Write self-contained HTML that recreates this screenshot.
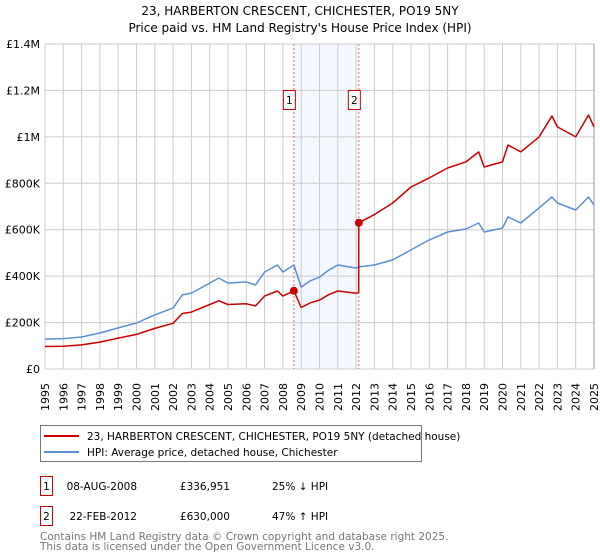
<!DOCTYPE html>
<html><head><meta charset="utf-8"><style>
body{margin:0;background:#fff;font-family:"DejaVu Sans","Liberation Sans",sans-serif;}
svg{display:block}
</style></head><body>
<svg width="600" height="560" xmlns="http://www.w3.org/2000/svg" font-family="DejaVu Sans, Liberation Sans, sans-serif">
<text x="300" y="15" text-anchor="middle" font-size="12">23, HARBERTON CRESCENT, CHICHESTER, PO19 5NY</text>
<text x="300" y="32" text-anchor="middle" font-size="12">Price paid vs. HM Land Registry's House Price Index (HPI)</text>
<g id="plot"></g>
<g>
<rect x="40.5" y="425.5" width="381" height="36" fill="#fff" stroke="#777"/>
<line x1="44" y1="436" x2="79" y2="436" stroke="#cc0000" stroke-width="2"/>
<text x="87" y="440" font-size="10.5">23, HARBERTON CRESCENT, CHICHESTER, PO19 5NY (detached house)</text>
<line x1="44" y1="452" x2="79" y2="452" stroke="#5b8fd4" stroke-width="2"/>
<text x="87" y="456" font-size="10.5">HPI: Average price, detached house, Chichester</text>
</g>
<g font-size="10.5">
<rect x="40.5" y="476.5" width="12" height="19" fill="#fff" stroke="#cc0000"/>
<text x="46.5" y="490" text-anchor="middle">1</text>
<text x="137" y="490" text-anchor="end">08-AUG-2008</text>
<text x="230" y="490" text-anchor="end">£336,951</text>
<text x="272" y="490">25% ↓ HPI</text>
<rect x="40.5" y="506.5" width="12" height="19" fill="#fff" stroke="#cc0000"/>
<text x="46.5" y="520" text-anchor="middle">2</text>
<text x="137" y="520" text-anchor="end">22-FEB-2012</text>
<text x="230" y="520" text-anchor="end">£630,000</text>
<text x="272" y="520">47% ↑ HPI</text>
</g>
<text x="40" y="540" font-size="10.5" fill="#777">Contains HM Land Registry data © Crown copyright and database right 2025.</text>
<text x="40" y="550" font-size="10.5" fill="#777">This data is licensed under the Open Government Licence v3.0.</text>
</svg>
<script>
const hpiDates=[1995,1996,1997,1998,1999,2000,2001,2002,2002.5,2003,2004,2004.5,2005,2006,2006.5,2007,2007.7,2008,2008.6,2009,2009.5,2010,2010.5,2011,2012,2012.15,2013,2014,2015,2016,2017,2018,2018.7,2019,2020,2020.3,2021,2022,2022.7,2023,2024,2024.7,2025];
const hpiValues=[129,131,138,155,177,198,233,263,319,327,370,392,370,375,362,418,448,418,448,353,380,396,426,448,435,440,448,470,513,556,590,603,629,590,607,655,629,694,741,715,685,741,707];
const redDates=[1995,1996,1997,1998,1999,2000,2001,2002,2002.5,2003,2004,2004.5,2005,2006,2006.5,2007,2007.7,2008,2008.6,2009,2009.5,2010,2010.5,2011,2012,2012.14,2012.15,2013,2014,2015,2016,2017,2018,2018.7,2019,2020,2020.3,2021,2022,2022.7,2023,2024,2024.7,2025];
const redValues=[97,98,104,116,133,149,175,197,239,245,278,294,278,281,272,314,336,314,337,265,285,297,320,336,326,330,630,665,715,784,823,866,892,935,870,892,965,935,1000,1090,1043,1000,1094,1043];
const saleDates=[2008.6,2012.15];
const saleValues=[336.951,630];
const saleLabels=["1","2"];
const yTicks=[0,200,400,600,800,1000,1200,1400];
const yTickLabels=["£0","£200K","£400K","£600K","£800K","£1M","£1.2M","£1.4M"];
const xYears=[];for(let y=1995;y<=2025;y++)xYears.push(y);

const X0=45,X1=594,Y0=369,Y1=44;
const xs=t=>X0+(t-1995)/30*(X1-X0);
const ys=v=>Y0-v/1400*(Y0-Y1);
const NS="http://www.w3.org/2000/svg";
const g=document.getElementById('plot');
function mk(tag,attrs,parent){const e=document.createElementNS(NS,tag);for(const k in attrs)e.setAttribute(k,attrs[k]);(parent||g).appendChild(e);return e;}

let e=mk('rect',{x:xs(saleDates[0]),y:Y1,width:xs(saleDates[1])-xs(saleDates[0]),height:Y0-Y1,fill:'#eef3fd',opacity:0.7});


xYears.forEach(y=>{
  const l=mk('line',{x1:xs(y),x2:xs(y),y1:Y1,y2:Y0,stroke:'#cccccc','stroke-width':1});
  
  
  const t=mk('text',{x:0,y:0,'font-size':11,'text-anchor':'end',transform:`translate(${xs(y)+4},${Y0+14}) rotate(-90)`});
  t.textContent=y;
  
  
});
yTicks.forEach((v,i)=>{
  const l=mk('line',{x1:X0,x2:X1,y1:ys(v),y2:ys(v),stroke:'#cccccc','stroke-width':1});
  
  
  const t=mk('text',{x:X0-5,y:ys(v)+4,'font-size':11,'text-anchor':'end'});
  t.textContent=yTickLabels[i];
  
  
});
e=mk('line',{x1:X1,x2:X1,y1:Y1,y2:Y0,stroke:'#999','stroke-width':1});


saleDates.forEach((d,i)=>{
  const l=mk('line',{x1:xs(d),x2:xs(d),y1:Y1,y2:Y0,stroke:'#ee6666','stroke-width':1,'stroke-dasharray':'2,2'});
  
  
});
function path(dates,vals,color,name){
  const d=dates.map((t,i)=>(i?'L':'M')+xs(t).toFixed(1)+','+ys(vals[i]).toFixed(1)).join('');
  const p=mk('path',{d:d,fill:'none',stroke:color,'stroke-width':1.5,'stroke-linejoin':'round'});
  
  
}
path(hpiDates,hpiValues,'#5b8fd4','hpi-line');
path(redDates,redValues,'#cc0000','property-price-line');
saleDates.forEach((d,i)=>{
  const c=mk('circle',{cx:xs(d),cy:ys(saleValues[i]),r:4,fill:'#cc0000'});
  
  
  const bx=xs(d)-11;
  const r=mk('rect',{x:bx+0.5,y:90.5,width:12,height:19,fill:'#fff',stroke:'#cc0000'});
  
  
  const t=mk('text',{x:bx+6.5,y:104,'font-size':10.5,'text-anchor':'middle'});
  t.textContent=saleLabels[i];
  
  
});
</script>
</body></html>
